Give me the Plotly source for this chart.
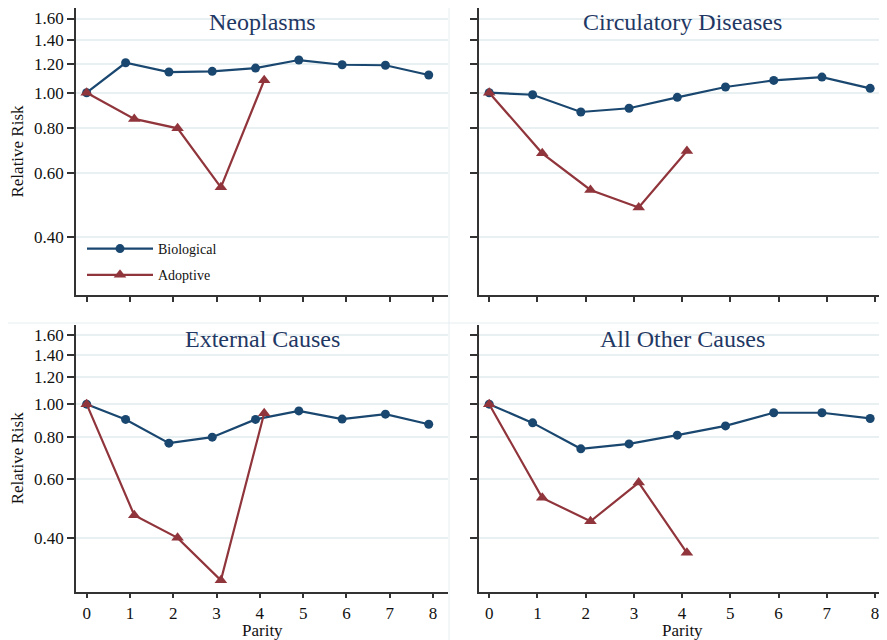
import math
import plotly.graph_objects as go

# ---------------- data ----------------
parity = [0, 1, 2, 3, 4, 5, 6, 7, 8]
parity_adoptive = [0, 1, 2, 3, 4]

panel_titles = ["Neoplasms", "Circulatory Diseases", "External Causes", "All Other Causes"]

neo_bio = [1.00, 1.209, 1.140, 1.145, 1.169, 1.230, 1.194, 1.190, 1.119]
neo_adopt = [1.00, 0.847, 0.798, 0.549, 1.082]

circ_bio = [1.00, 0.987, 0.885, 0.906, 0.971, 1.037, 1.081, 1.104, 1.028]
circ_adopt = [1.00, 0.681, 0.540, 0.483, 0.691]

ext_bio = [1.00, 0.901, 0.766, 0.798, 0.901, 0.955, 0.903, 0.934, 0.872]
ext_adopt = [1.00, 0.468, 0.401, 0.300, 0.940]

oth_bio = [1.00, 0.880, 0.737, 0.762, 0.809, 0.862, 0.943, 0.943, 0.907]
oth_adopt = [1.00, 0.527, 0.449, 0.585, 0.362]

y_tickvals = [0.40, 0.60, 0.80, 1.00, 1.20, 1.40, 1.60]
y_ticktext = ["0.40", "0.60", "0.80", "1.00", "1.20", "1.40", "1.60"]
x_tickvals = [0, 1, 2, 3, 4, 5, 6, 7, 8]

# ---------------- style ----------------
OFF = 8                      # default page margin around the figure
W, H = 887 - OFF, 640 - OFF
BIO = "#1a476f"
ADO = "#90353b"
TITLE_C = "#1f3864"
GRID_C = "#e8f0f2"
AXIS_C = "#333333"
BORDER_C = "#e6eef1"
TXT_C = "#111111"
FONT = "Liberation Serif"
DODGE = 0.1

series = [(neo_bio, neo_adopt), (circ_bio, circ_adopt), (ext_bio, ext_adopt), (oth_bio, oth_adopt)]

def px_x(p):
    return (p - OFF) / W

def px_y(p):
    return 1 - (p - OFF) / H

x_domains = [[px_x(76), px_x(448)], [px_x(478.5), 1.0]] * 2
y_domains = [[px_y(295), 1.0]] * 2 + [[px_y(591.7), px_y(325)]] * 2
x_ranges = [[-0.246, 8.345], [-0.222, 8.249]] * 2
y_ranges = [[math.log10(0.2775), math.log10(1.7105)]] * 2 + [[math.log10(0.2775), math.log10(1.718)]] * 2

fig = go.Figure()

for i, (bio, ado) in enumerate(series):
    ax = "" if i == 0 else str(i + 1)
    xb = [p - DODGE if p > 0 else p for p in parity]
    xa = [p + DODGE if p > 0 else p for p in parity_adoptive]
    fig.add_trace(go.Scatter(
        x=xb, y=bio, mode="lines+markers", name="Biological",
        line=dict(color=BIO, width=2.2),
        marker=dict(symbol="circle", size=9, color=BIO),
        xaxis="x" + ax, yaxis="y" + ax, showlegend=(i == 0),
        legendgroup="bio", cliponaxis=False,
    ))
    fig.add_trace(go.Scatter(
        x=xa, y=ado, mode="lines+markers", name="Adoptive",
        line=dict(color=ADO, width=2.2),
        marker=dict(symbol="triangle-up", size=11, color=ADO),
        xaxis="x" + ax, yaxis="y" + ax, showlegend=(i == 0),
        legendgroup="ado", cliponaxis=False,
    ))

layout = dict(
    width=W, height=H,
    margin=dict(l=0, r=0, t=0, b=0, autoexpand=False),
    paper_bgcolor="white", plot_bgcolor="white",
    font=dict(family=FONT, color=TXT_C, size=16),
    showlegend=True,
    legend=dict(
        x=px_x(82), y=px_y(233), xanchor="left", yanchor="top",
        bgcolor="rgba(0,0,0,0)", font=dict(family=FONT, size=14, color=TXT_C),
        itemwidth=66, tracegroupgap=5, traceorder="grouped",
    ),
)

for i in range(4):
    ax = "" if i == 0 else str(i + 1)
    bottom = i >= 2
    left = i % 2 == 0
    layout["xaxis" + ax] = dict(
        domain=x_domains[i], range=x_ranges[i], anchor="y" + ax, automargin=False,
        tickmode="array", tickvals=x_tickvals, ticklabeloverflow="allow",
        showticklabels=bottom, ticks="outside", ticklen=5, tickwidth=1.5, tickcolor=AXIS_C,
        showline=True, linecolor=AXIS_C, linewidth=1.5, showgrid=False, zeroline=False,
        tickfont=dict(family=FONT, size=17, color=TXT_C),
    )
    layout["yaxis" + ax] = dict(
        domain=y_domains[i], type="log", range=y_ranges[i], anchor="x" + ax, automargin=False,
        tickmode="array", tickvals=y_tickvals, ticktext=y_ticktext, ticklabeloverflow="allow",
        showticklabels=left, ticks="outside", ticklen=7, tickwidth=1.5, tickcolor=AXIS_C,
        showline=True, linecolor=AXIS_C, linewidth=1.5,
        showgrid=True, gridcolor=GRID_C, gridwidth=1.5, zeroline=False,
        tickfont=dict(family=FONT, size=17, color=TXT_C),
        title=dict(text="Relative Risk" if left else "", font=dict(family=FONT, size=17, color=TXT_C), standoff=10),
    )

fig.update_layout(**layout)

for i, t in enumerate(panel_titles):
    ax = "" if i == 0 else str(i + 1)
    fig.add_annotation(
        text=t, xref="x" + ax + " domain", yref="paper",
        x=0.5, y=px_y(22 if i < 2 else 339), xanchor="center", yanchor="middle", showarrow=False,
        font=dict(family=FONT, size=24, color=TITLE_C),
    )
    if i >= 2:
        fig.add_annotation(
            text="Parity", xref="x" + ax + " domain", yref="paper",
            x=0.5, y=px_y(630.5), xanchor="center", yanchor="middle", showarrow=False,
            font=dict(family=FONT, size=17, color=TXT_C),
        )

# faint graph-region borders of the four panels
fig.add_shape(type="line", xref="paper", yref="paper", x0=px_x(449), x1=px_x(449),
              y0=0, y1=1, line=dict(color=BORDER_C, width=1), layer="below")
fig.add_shape(type="line", xref="paper", yref="paper", x0=0, x1=1,
              y0=px_y(323), y1=px_y(323), line=dict(color=BORDER_C, width=1), layer="below")

fig.write_html("out.html")
